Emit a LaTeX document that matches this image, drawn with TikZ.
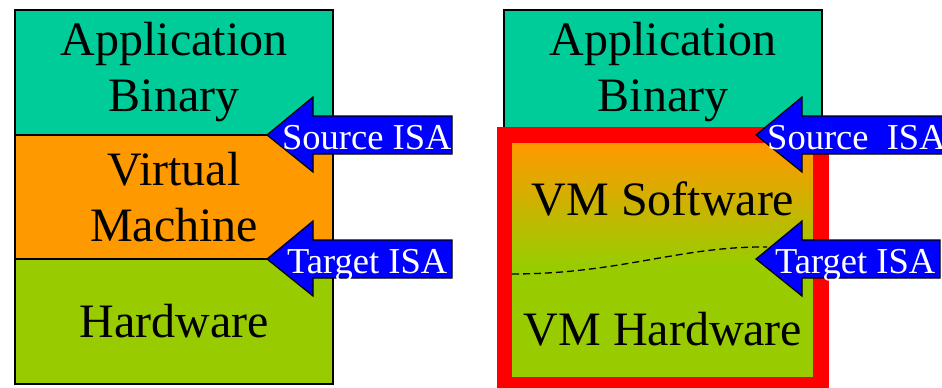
\documentclass[tikz,border=0pt]{standalone}
\usepackage{fontspec}
\setmainfont{Liberation Serif}
\definecolor{appteal}{RGB}{0,204,153}
\definecolor{vmorange}{RGB}{255,153,0}
\definecolor{hwgreen}{RGB}{153,204,0}
\definecolor{isablue}{RGB}{0,0,255}
\definecolor{framered}{RGB}{255,0,0}
% ISA arrow: tip x, tip y, right end x
\newcommand{\isaShape}[3]{%
  \draw[isaarrow] (#1,#2) -- (#1+46,#2-38) -- (#1+46,#2-19) -- (#3,#2-19)
    -- (#3,#2+19) -- (#1+46,#2+19) -- (#1+46,#2+37) -- cycle;}
\begin{document}
\begin{tikzpicture}[x=1pt,y=-1pt,
  layer/.style={draw=black, line width=1.2pt, minimum width=318pt, inner sep=0pt,
    align=center, font=\fontsize{48}{56}\selectfont},
  isaarrow/.style={draw=black, line width=1.2pt, fill=isablue},
  isatext/.style={text=white, font=\fontsize{36.5}{40}\selectfont, inner sep=0pt, anchor=base west},
  bigtext/.style={font=\fontsize{48}{56}\selectfont, inner sep=0pt, anchor=base}]
\useasboundingbox (0,0) rectangle (942,388);

% left: conventional stack
\node[layer, fill=appteal, minimum height=125pt] (appL) at (174,72.5) {Application\\Binary};
\node[layer, fill=vmorange, minimum height=124pt] (vmL) at (174,197) {Virtual\\Machine};
\node[layer, fill=hwgreen, minimum height=125pt] (hwL) at (174,321.5) {Hardware};

\isaShape{267}{135}{452}
\node[isatext] (srcL) at (282,149) {Source ISA};
\isaShape{267}{259}{452}
\node[isatext] (tgtL) at (287,273) {Target ISA};

% right: application on a co-designed VM
\node[layer, fill=appteal, minimum height=125pt] (appR) at (663,72.5) {Application\\Binary};
\fill[vmorange] (504,135) rectangle (822,145);
\shade[top color=vmorange, bottom color=hwgreen] (504,144.5) rectangle (822,264);
\fill[hwgreen] (504,263.5) rectangle (822,388);
\coordinate (splitL) at (512,274);
\coordinate (splitR) at (767,247);
\draw[line width=1.3pt, dash pattern=on 7pt off 4pt] (splitL) .. controls (620,274) and (680,246) .. (splitR);
\draw[framered, line width=15.5pt] (504.5,135) rectangle (821,384.5);
\node[bigtext] (vmsw) at (663,215) {VM Software};
\node[bigtext] (vmhw) at (663,345) {VM Hardware};

\isaShape{756}{135}{945}
\node[isatext] (srcR) at (767,149) {Source\ \ ISA};
\isaShape{756}{259}{940}
\node[isatext] (tgtR) at (775,273) {Target ISA};
\end{tikzpicture}
\end{document}
